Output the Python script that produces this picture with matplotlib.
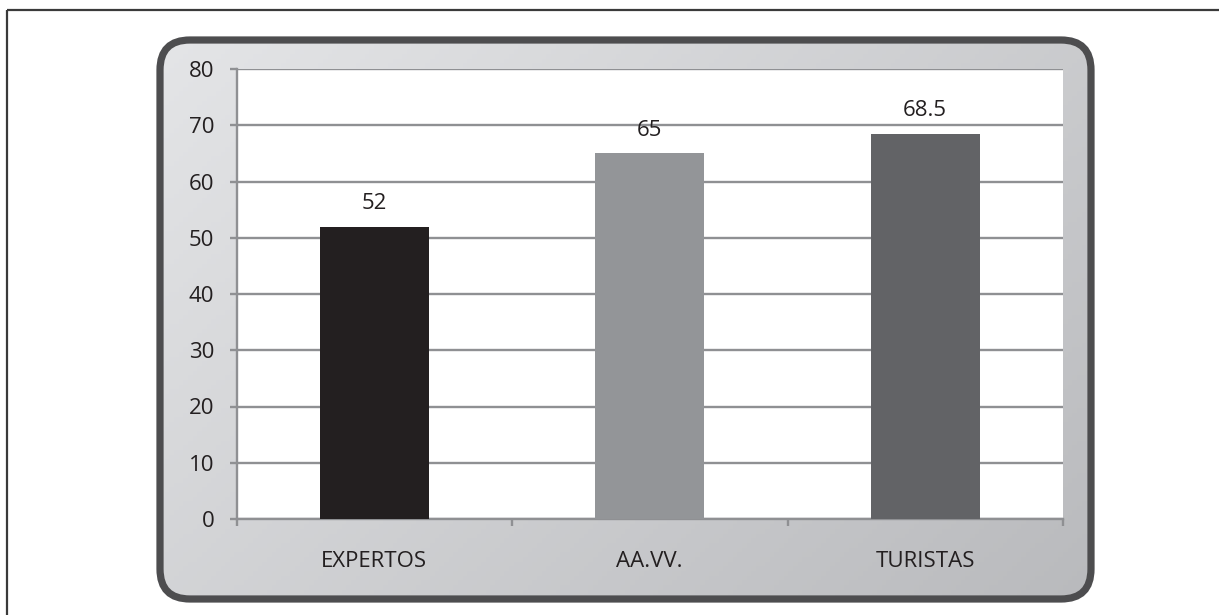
import matplotlib
matplotlib.use("Agg")
import matplotlib.pyplot as plt
import numpy as np
from matplotlib.patches import FancyBboxPatch

# data
categories = ["EXPERTOS", "AA.VV.", "TURISTAS"]
values = [52, 65, 68.5]
value_labels = ["52", "65", "68.5"]
bar_colors = ["#231f20", "#939598", "#626366"]
y_ticks = [0, 10, 20, 30, 40, 50, 60, 70, 80]

plt.rcParams["font.family"] = ["Open Sans", "DejaVu Sans"]

W, H = 1219, 615
fig = plt.figure(figsize=(W / 100, H / 100), dpi=100)
fig.patch.set_facecolor("white")

# background layer in pixel coords
bg = fig.add_axes([0, 0, 1, 1])
bg.set_xlim(0, W); bg.set_ylim(H, 0)
bg.axis("off")

# outer frame (top + left only)
bg.plot([7, W], [10, 10], color="#3a3a3a", lw=1.6, solid_capstyle="butt")
bg.plot([7, 7], [10, H], color="#3a3a3a", lw=1.6, solid_capstyle="butt")

# rounded panel with gradient fill
x0, y0, x1, y1 = 160, 40, 1091, 599
box = FancyBboxPatch((x0, y0), x1 - x0, y1 - y0,
                     boxstyle="round,pad=0,rounding_size=30",
                     fc="none", ec="#4d4d4f", lw=5.2, zorder=3)
bg.add_patch(box)
gx, gy = np.meshgrid(np.linspace(0, 1, 200), np.linspace(0, 1, 120))
grad = 0.6 * gx + 0.4 * gy
img = bg.imshow(grad, extent=(x0, x1, y1, y0), cmap=matplotlib.colors.LinearSegmentedColormap.from_list(
    "panel", ["#e4e5e7", "#b9babd"]), aspect="auto", zorder=1)
img.set_clip_path(box)
bg.set_xlim(0, W); bg.set_ylim(H, 0)

# main plot
ax = fig.add_axes([236.5 / W, 1 - 519 / H, (1063 - 236.5) / W, (519 - 69) / H])
ax.set_facecolor("white")
ax.set_zorder(5)
x = np.arange(len(categories))
bars = ax.bar(x, values, width=0.395, color=bar_colors, zorder=3)
for xi, v, lab in zip(x, values, value_labels):
    ax.text(xi, v + 2.2, lab, ha="center", va="bottom", fontsize=16, color="#231f20")

ax.set_ylim(0, 80)
ax.set_xlim(-0.5, 2.5)
ax.set_yticks(y_ticks)
ax.yaxis.grid(True, color="#8f9093", lw=1.7, zorder=0)
ax.set_axisbelow(True)
for s in ["top", "right"]:
    ax.spines[s].set_visible(False)
for s in ["left", "bottom"]:
    ax.spines[s].set_color("#8f9093")
    ax.spines[s].set_linewidth(1.7)

ax.set_xticks(x)
ax.set_xticklabels(categories)
ax.set_xticks([-0.5, 0.5, 1.5, 2.5], minor=True)
ax.tick_params(axis="x", which="major", length=0, pad=23, labelsize=16, labelcolor="#231f20")
ax.tick_params(axis="x", which="minor", length=5, width=1.7, color="#8f9093")
ax.tick_params(axis="y", length=5, width=1.7, color="#8f9093", pad=11,
               labelsize=16, labelcolor="#231f20")

fig.savefig("out.png", dpi=100)
